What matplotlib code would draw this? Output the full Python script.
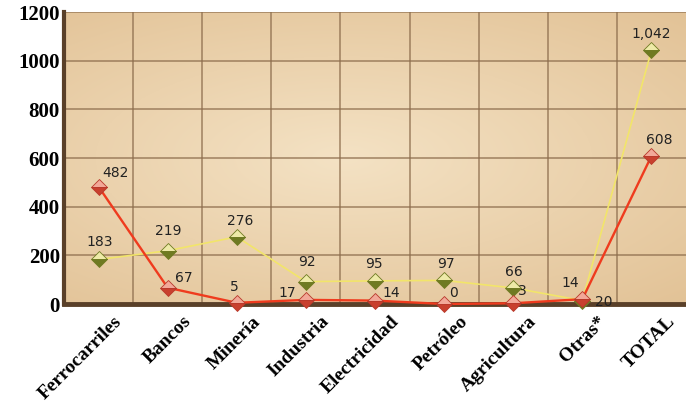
import numpy as np
import matplotlib.pyplot as plt
from matplotlib.transforms import ScaledTranslation

categorias = ['Ferrocarriles', 'Bancos', 'Minería', 'Industria', 'Electricidad',
              'Petróleo', 'Agricultura', 'Otras*', 'TOTAL']
serie_amarilla = [183, 219, 276, 92, 95, 97, 66, 14, 1042]
serie_roja = [482, 67, 5, 17, 14, 0, 3, 20, 608]
etiquetas_amarilla = ['183', '219', '276', '92', '95', '97', '66', '14', '1,042']
etiquetas_roja = ['482', '67', '5', '17', '14', '0', '3', '20', '608']
y_ticks = [0, 200, 400, 600, 800, 1000, 1200]

# label offsets in pixels (dx, dy up) relative to each marker
off_amarilla = [(1, 17), (1, 20), (3, 16), (1, 20), (-1, 17), (2, 16), (1, 16), (-12, 18), (0, 16)]
off_roja = [(17, 14), (16, 10), (-2, 16), (-19, 7), (16, 8), (9, 11), (9, 12), (21, -3), (8, 16)]

fig = plt.figure(figsize=(6.86, 4.08), dpi=100)
ax = fig.add_axes([64 / 686, 1 - 304 / 408, 622 / 686, 292 / 408])

x = np.arange(len(categorias))
ax.set_xlim(-0.5, len(categorias) - 0.5)
ax.set_ylim(0, 1200)

# parchment background
ny, nx = 200, 400
yy, xx = np.mgrid[0:1:ny * 1j, 0:1:nx * 1j]
r = np.sqrt(((xx - 0.45) / 0.8) ** 2 + ((yy - 0.5) / 0.7) ** 2)
r = np.clip(r, 0, 1)
centro = np.array([244, 226, 196]) / 255
borde = np.array([226, 194, 150]) / 255
img = centro[None, None, :] * (1 - r[..., None]) + borde[None, None, :] * r[..., None]
ax.imshow(img, extent=[-0.5, len(categorias) - 0.5, 0, 1200], aspect='auto', zorder=0)

# grid
for b in np.arange(0.5, len(categorias) - 0.5, 1):
    ax.axvline(b, color='#8c6c4c', lw=1.2, alpha=0.75, zorder=1)
for t in y_ticks[1:]:
    ax.axhline(t, color='#8c6c4c', lw=1.2, alpha=0.75, zorder=1)

ax.plot(x, serie_amarilla, color='#f2e56a', lw=1.2, zorder=3, clip_on=False,
        marker='D', markersize=8, fillstyle='top', markerfacecolor='#eeeaa8',
        markerfacecoloralt='#6f7a22', markeredgecolor='#6f7a22', markeredgewidth=0.6)
ax.plot(x, serie_roja, color='#ef3b1e', lw=1.7, zorder=4, clip_on=False,
        marker='D', markersize=8, fillstyle='top', markerfacecolor='#f2a898',
        markerfacecoloralt='#c8402e', markeredgecolor='#b8382a', markeredgewidth=0.6)

for i in range(len(categorias)):
    ax.annotate(etiquetas_amarilla[i], (x[i], serie_amarilla[i]), xytext=off_amarilla[i],
                textcoords='offset pixels', ha='center', va='center',
                fontsize=10, color='#222222', zorder=5, annotation_clip=False)
    ax.annotate(etiquetas_roja[i], (x[i], serie_roja[i]), xytext=off_roja[i],
                textcoords='offset pixels', ha='center', va='center',
                fontsize=10, color='#222222', zorder=5, annotation_clip=False)

for s in ['top', 'right']:
    ax.spines[s].set_visible(False)
ax.spines['left'].set_color('#5a4029')
ax.spines['left'].set_linewidth(3)
ax.spines['bottom'].set_color('#5a4029')
ax.spines['bottom'].set_linewidth(3.5)
ax.spines['left'].set_zorder(2)
ax.spines['bottom'].set_zorder(2)

ax.set_yticks(y_ticks)
ax.set_yticklabels([str(t) for t in y_ticks], family='Liberation Serif',
                   fontweight='bold', fontsize=15)
ax.set_xticks(x)
ax.set_xticklabels(categorias, family='Liberation Serif', fontweight='bold',
                   fontsize=14, rotation=45, ha='right', va='center',
                   rotation_mode='anchor')
ax.tick_params(axis='both', length=0)
ax.tick_params(axis='y', pad=3)
ax.tick_params(axis='x', pad=0)
shift = ScaledTranslation(0.21, -0.15, fig.dpi_scale_trans)
for lab in ax.get_xticklabels():
    lab.set_transform(lab.get_transform() + shift)

fig.savefig('out.png', dpi=100)
